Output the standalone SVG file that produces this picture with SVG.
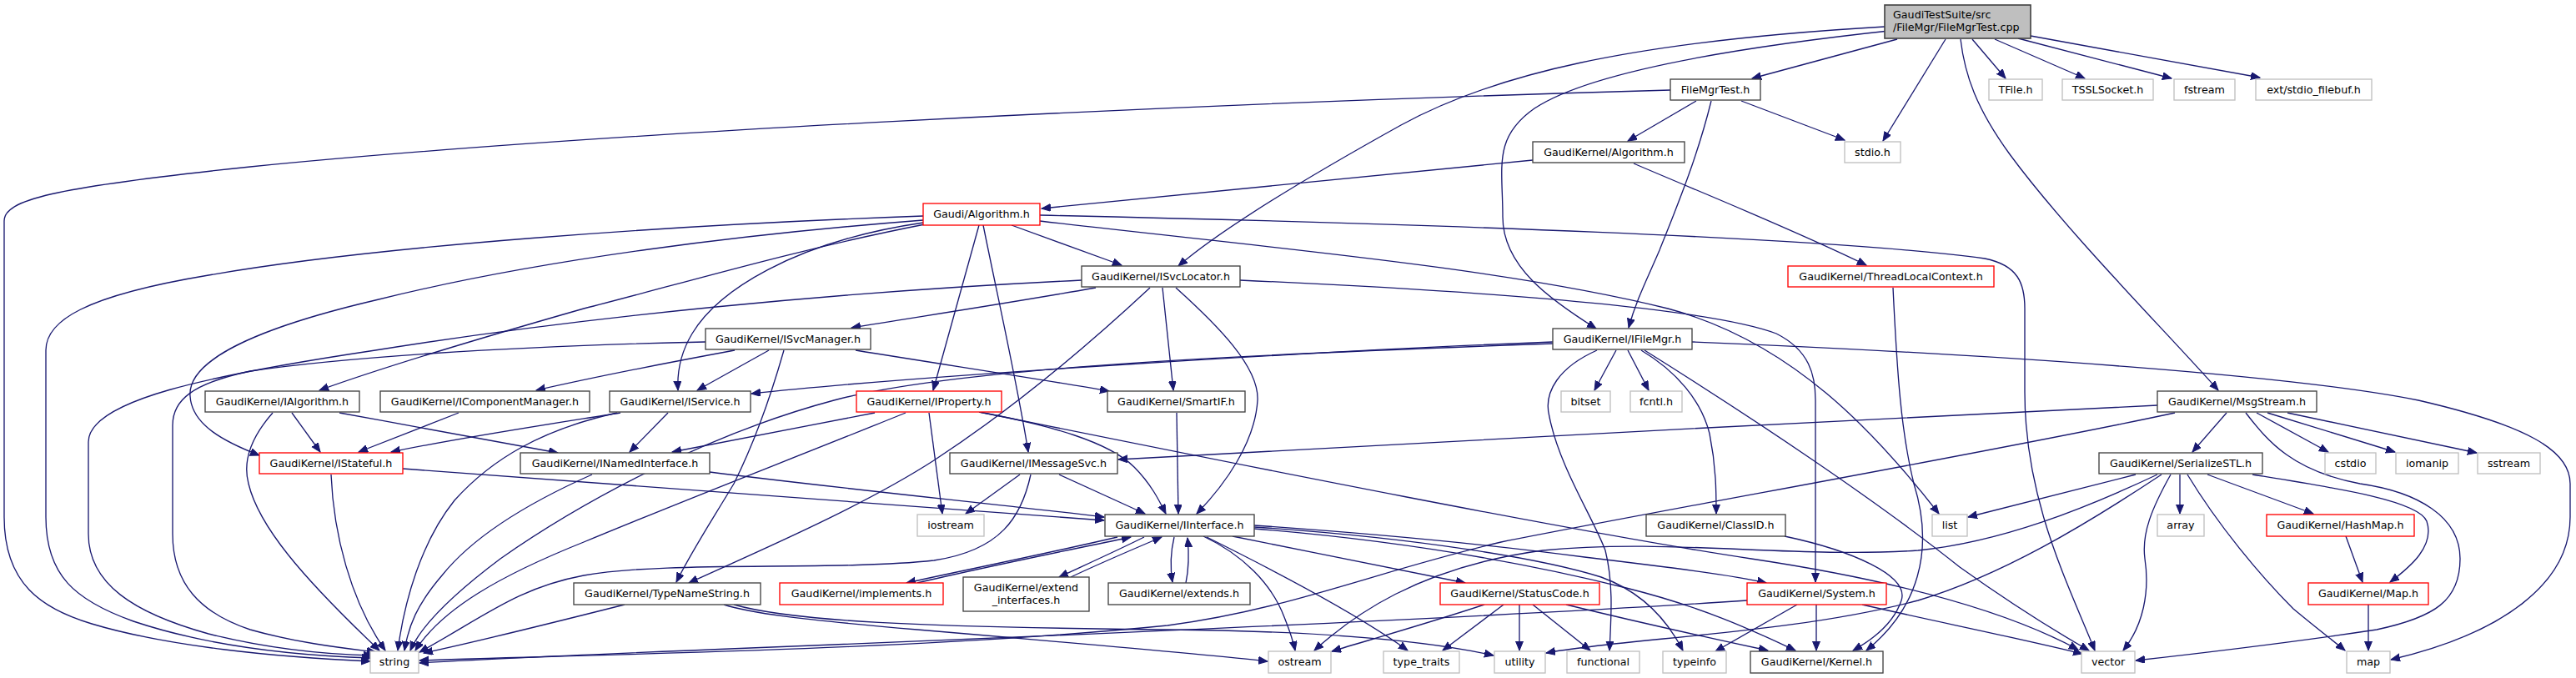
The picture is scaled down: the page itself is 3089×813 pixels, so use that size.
<svg xmlns="http://www.w3.org/2000/svg" width="3089" height="813" viewBox="0 0 3089 813">
<style>
.n rect{fill:#ffffff;stroke:#404040;stroke-width:1.33}
.r rect{fill:#ffffff;stroke:#ff0000;stroke-width:1.33}
.g rect{fill:#ffffff;stroke:#bfbfbf;stroke-width:1.33}
.t rect{fill:#bfbfbf;stroke:#404040;stroke-width:1.6}
text{font-family:"DejaVu Sans","Liberation Sans",sans-serif;font-size:12.7px;fill:#000000;text-anchor:middle}
text.l{text-anchor:start}
#edges path{fill:none;stroke:#191970;stroke-width:1.33;marker-end:url(#a)}
</style>
<defs>
<marker id="a" markerUnits="userSpaceOnUse" markerWidth="13" markerHeight="11" refX="11" refY="4.5" orient="auto">
<path d="M0,0 L11,4.5 L0,9 z" fill="#191970" stroke="#191970" stroke-width="1"/>
</marker>
</defs>
<rect x="0" y="0" width="3089" height="813" fill="#ffffff"/>
<g id="edges">
<path d="M2275,47 L2101,94"/>
<path d="M2333,47 L2258,169"/>
<path d="M2260,32 C1950,50 1790,90 1680,150 C1590,200 1470,270 1413,319"/>
<path d="M2274,36 C2050,60 1900,90 1840,130 C1790,165 1802,200 1802,260 C1802,320 1860,360 1914,394"/>
<path d="M2365,47 L2405,94"/>
<path d="M2392,47 L2500,94"/>
<path d="M2420,46 L2604,94"/>
<path d="M2435,43 L2710,93"/>
<path d="M2351,47 C2356,90 2370,130 2410,185 C2480,280 2600,400 2660,468"/>
<path d="M2003,108 C1400,125 700,160 300,200 C60,225 5,240 5,265 L5,620 C5,700 50,730 110,748 C200,775 330,788 444,793"/>
<path d="M2034,121 L1952,169"/>
<path d="M2088,121 L2212,168"/>
<path d="M2052,121 C2035,190 2010,250 1990,300 C1975,335 1962,360 1953,393"/>
<path d="M1838,192 L1249,250"/>
<path d="M1959,196 C2050,235 2150,275 2238,318"/>
<path d="M1107,259 C800,270 450,295 250,330 C100,355 55,385 55,420 L55,620 C55,690 90,720 160,745 C250,775 350,786 445,789"/>
<path d="M1107,264 C900,280 650,310 450,360 C280,400 225,440 228,475 C230,510 270,530 311,546"/>
<path d="M1109,269 C950,300 800,345 700,370 C560,410 460,440 383,468"/>
<path d="M1107,267 C950,290 860,350 830,400 C815,425 812,450 813,468"/>
<path d="M1174,270 L1119,468"/>
<path d="M1179,270 C1195,350 1220,460 1233,542"/>
<path d="M1213,270 L1345,318"/>
<path d="M1247,265 C1500,295 1800,320 2000,370 C2150,410 2250,520 2325,616"/>
<path d="M1247,258 C1700,268 2200,285 2380,310 C2420,318 2428,340 2428,370 L2428,470 C2428,600 2480,700 2512,780"/>
<path d="M1297,336 C1000,350 700,380 450,420 C250,450 106,480 106,530 L106,640 C106,700 160,735 250,760 C330,780 400,785 447,786"/>
<path d="M1314,345 C1200,365 1100,380 1021,393"/>
<path d="M1379,345 C1320,400 1230,480 1120,552 C1030,610 900,665 826,699"/>
<path d="M1394,345 L1407,468"/>
<path d="M1410,345 C1460,390 1510,440 1508,480 C1505,530 1470,580 1435,616"/>
<path d="M1487,336 C1800,350 2050,370 2130,400 C2170,420 2177,450 2177,480 L2177,698"/>
<path d="M846,410 C600,415 400,430 300,445 C230,460 207,480 207,510 L207,640 C207,700 240,735 300,755 C360,772 420,778 451,782"/>
<path d="M881,420 C800,435 700,455 643,468"/>
<path d="M922,420 L836,468"/>
<path d="M940,420 C920,490 900,540 880,580 C850,630 830,660 811,698"/>
<path d="M1026,420 C1150,440 1250,455 1330,469"/>
<path d="M744,495 C650,510 550,525 469,542"/>
<path d="M801,495 L755,542"/>
<path d="M740,495 C650,515 590,550 545,600 C505,650 485,720 477,780"/>
<path d="M350,495 L384,542"/>
<path d="M327,495 C305,520 290,550 298,580 C310,630 360,690 455,780"/>
<path d="M407,495 C500,512 600,530 669,543"/>
<path d="M550,495 L430,542"/>
<path d="M397,569 C400,640 420,720 462,780"/>
<path d="M483,562 C800,585 1100,605 1324,624"/>
<path d="M710,569 C640,600 570,640 530,690 C500,725 490,750 485,780"/>
<path d="M851,566 C1000,585 1200,605 1324,620"/>
<path d="M1049,495 L806,542"/>
<path d="M1086,495 C950,550 820,600 700,650 C600,690 530,730 498,780"/>
<path d="M1114,495 L1130,616"/>
<path d="M1174,494 C1260,510 1330,530 1360,560 C1380,580 1390,600 1398,616"/>
<path d="M1174,494 C1500,560 1900,640 2100,670 C2300,700 2420,740 2492,779"/>
<path d="M1223,569 L1158,616"/>
<path d="M1270,569 L1373,616"/>
<path d="M1236,569 C1225,620 1200,660 1120,672 C1000,685 800,672 700,690 C620,705 580,740 503,782"/>
<path d="M1411,495 L1413,616"/>
<path d="M749,725 C650,750 570,770 508,783"/>
<path d="M868,725 C900,735 950,742 1100,755 C1300,772 1450,785 1520,793"/>
<path d="M880,725 C950,745 1100,752 1400,755 C1600,757 1720,770 1791,786"/>
<path d="M1340,644 C1250,665 1150,685 1087,699"/>
<path d="M1100,699 C1180,680 1280,660 1356,644"/>
<path d="M1372,644 C1340,660 1300,678 1270,692"/>
<path d="M1284,692 C1320,675 1360,658 1393,644"/>
<path d="M1408,644 C1403,665 1403,680 1406,698"/>
<path d="M1422,699 C1426,680 1426,665 1424,645"/>
<path d="M1443,643 C1490,665 1525,700 1540,740 C1548,760 1551,770 1553,780"/>
<path d="M1447,644 C1560,700 1640,745 1688,780"/>
<path d="M1478,643 C1570,662 1680,683 1757,699"/>
<path d="M1504,630 C1650,640 1800,655 1900,668 C2000,680 2080,690 2118,699"/>
<path d="M1504,632 C1700,645 1850,670 1920,692 C1970,710 2000,745 2018,780"/>
<path d="M1504,634 C1700,650 1850,680 1950,705 C2050,730 2110,760 2153,780"/>
<path d="M1780,725 C1720,745 1650,765 1597,781"/>
<path d="M1803,725 L1730,780"/>
<path d="M1822,725 L1822,780"/>
<path d="M1838,725 L1907,780"/>
<path d="M1878,725 C1960,745 2050,765 2120,780"/>
<path d="M2095,720 C1800,740 1200,765 900,777 C700,785 580,790 503,795"/>
<path d="M2155,725 L2057,781"/>
<path d="M2178,725 L2178,780"/>
<path d="M2233,725 C2320,745 2420,765 2497,784"/>
<path d="M2140,643 C2220,660 2290,690 2280,720 C2270,750 2240,770 2222,780"/>
<path d="M2270,345 C2275,450 2280,520 2295,580 C2320,660 2300,730 2238,780"/>
<path d="M1862,410 C1600,420 1100,450 901,472"/>
<path d="M1862,412 C1500,425 1150,440 1000,480 C850,520 700,600 600,670 C540,715 505,750 492,780"/>
<path d="M1938,420 L1912,468"/>
<path d="M1952,420 L1977,468"/>
<path d="M1915,420 C1870,440 1850,470 1858,500 C1870,560 1910,620 1925,660 C1935,700 1932,740 1930,780"/>
<path d="M1968,420 C2010,445 2040,480 2050,520 C2058,560 2058,590 2058,616"/>
<path d="M1972,420 C2100,500 2250,600 2350,680 C2420,730 2470,760 2505,780"/>
<path d="M2029,410 C2400,425 2750,450 2900,480 C3030,510 3082,540 3082,580 L3082,620 C3082,700 3000,760 2867,791"/>
<path d="M2587,486 C2200,505 1700,530 1341,551"/>
<path d="M2608,495 C2400,540 2000,610 1800,650 C1650,685 1550,730 1400,750 C1100,780 700,785 503,792"/>
<path d="M2670,495 L2629,542"/>
<path d="M2706,495 L2792,542"/>
<path d="M2719,495 L2872,542"/>
<path d="M2743,495 L2970,543"/>
<path d="M2693,495 C2720,530 2750,565 2830,580 C2900,590 2950,620 2950,670 C2950,720 2920,740 2850,755 C2750,770 2650,782 2561,792"/>
<path d="M2561,569 L2360,620"/>
<path d="M2587,569 C2500,610 2400,650 2300,660 C2150,670 2000,645 1850,660 C1700,680 1620,740 1576,780"/>
<path d="M2592,569 C2500,630 2400,690 2300,720 C2150,760 1950,765 1854,783"/>
<path d="M2603,569 C2580,610 2568,640 2572,670 C2578,710 2570,750 2546,780"/>
<path d="M2614,569 L2614,616"/>
<path d="M2623,569 C2660,630 2710,690 2750,730 C2780,755 2800,770 2812,780"/>
<path d="M2647,569 L2774,616"/>
<path d="M2701,569 C2800,585 2900,600 2910,625 C2920,655 2890,680 2866,698"/>
<path d="M2813,643 L2833,698"/>
<path d="M2840,725 L2840,780"/>
</g>
<g id="n0" class="t"><rect x="2260" y="6" width="175" height="40"/><text class="l" x="2270" y="21.5">GaudiTestSuite/src</text><text class="l" x="2270" y="37">/FileMgr/FileMgrTest.cpp</text></g>
<g id="n1" class="n"><rect x="2003" y="95" width="108" height="25"/><text x="2057" y="112">FileMgrTest.h</text></g>
<g id="n2" class="g"><rect x="2385" y="95" width="64" height="25"/><text x="2417" y="112">TFile.h</text></g>
<g id="n3" class="g"><rect x="2473" y="95" width="109" height="25"/><text x="2527.5" y="112">TSSLSocket.h</text></g>
<g id="n4" class="g"><rect x="2607" y="95" width="73" height="25"/><text x="2643.5" y="112">fstream</text></g>
<g id="n5" class="g"><rect x="2705" y="95" width="139" height="25"/><text x="2774.5" y="112">ext/stdio_filebuf.h</text></g>
<g id="n6" class="n"><rect x="1838" y="170" width="182" height="25"/><text x="1929" y="187">GaudiKernel/Algorithm.h</text></g>
<g id="n7" class="g"><rect x="2212" y="170" width="67" height="25"/><text x="2245.5" y="187">stdio.h</text></g>
<g id="n8" class="r"><rect x="1107" y="244" width="140" height="26"/><text x="1177" y="261">Gaudi/Algorithm.h</text></g>
<g id="n9" class="n"><rect x="1297" y="319" width="190" height="25"/><text x="1392" y="336">GaudiKernel/ISvcLocator.h</text></g>
<g id="n10" class="r"><rect x="2144" y="319" width="247" height="25"/><text x="2267.5" y="336">GaudiKernel/ThreadLocalContext.h</text></g>
<g id="n11" class="n"><rect x="846" y="394" width="198" height="25"/><text x="945" y="411">GaudiKernel/ISvcManager.h</text></g>
<g id="n12" class="n"><rect x="1862" y="394" width="167" height="25"/><text x="1945.5" y="411">GaudiKernel/IFileMgr.h</text></g>
<g id="n13" class="n"><rect x="246" y="469" width="185" height="25"/><text x="338.5" y="486">GaudiKernel/IAlgorithm.h</text></g>
<g id="n14" class="n"><rect x="456" y="469" width="251" height="25"/><text x="581.5" y="486">GaudiKernel/IComponentManager.h</text></g>
<g id="n15" class="n"><rect x="731" y="469" width="169" height="25"/><text x="815.5" y="486">GaudiKernel/IService.h</text></g>
<g id="n16" class="r"><rect x="1027" y="469" width="174" height="25"/><text x="1114" y="486">GaudiKernel/IProperty.h</text></g>
<g id="n17" class="n"><rect x="1328" y="469" width="165" height="25"/><text x="1410.5" y="486">GaudiKernel/SmartIF.h</text></g>
<g id="n18" class="g"><rect x="1872" y="469" width="59" height="25"/><text x="1901.5" y="486">bitset</text></g>
<g id="n19" class="g"><rect x="1955" y="469" width="62" height="25"/><text x="1986" y="486">fcntl.h</text></g>
<g id="n20" class="n"><rect x="2587" y="469" width="191" height="25"/><text x="2682.5" y="486">GaudiKernel/MsgStream.h</text></g>
<g id="n21" class="r"><rect x="311" y="543" width="172" height="25"/><text x="397" y="560">GaudiKernel/IStateful.h</text></g>
<g id="n22" class="n"><rect x="624" y="543" width="227" height="25"/><text x="737.5" y="560">GaudiKernel/INamedInterface.h</text></g>
<g id="n23" class="n"><rect x="1139" y="543" width="201" height="25"/><text x="1239.5" y="560">GaudiKernel/IMessageSvc.h</text></g>
<g id="n24" class="n"><rect x="2517" y="543" width="196" height="25"/><text x="2615" y="560">GaudiKernel/SerializeSTL.h</text></g>
<g id="n25" class="g"><rect x="2788" y="543" width="61" height="25"/><text x="2818.5" y="560">cstdio</text></g>
<g id="n26" class="g"><rect x="2873" y="543" width="75" height="25"/><text x="2910.5" y="560">iomanip</text></g>
<g id="n27" class="g"><rect x="2971" y="543" width="75" height="25"/><text x="3008.5" y="560">sstream</text></g>
<g id="n28" class="g"><rect x="1100" y="617" width="80" height="26"/><text x="1140" y="634">iostream</text></g>
<g id="n29" class="n"><rect x="1325" y="617" width="179" height="26"/><text x="1414.5" y="634">GaudiKernel/IInterface.h</text></g>
<g id="n30" class="n"><rect x="1974" y="617" width="167" height="26"/><text x="2057.5" y="634">GaudiKernel/ClassID.h</text></g>
<g id="n31" class="g"><rect x="2317" y="617" width="42" height="26"/><text x="2338" y="634">list</text></g>
<g id="n32" class="g"><rect x="2587" y="617" width="56" height="26"/><text x="2615" y="634">array</text></g>
<g id="n33" class="r"><rect x="2718" y="617" width="177" height="26"/><text x="2806.5" y="634">GaudiKernel/HashMap.h</text></g>
<g id="n34" class="n"><rect x="688" y="699" width="224" height="26"/><text x="800" y="716">GaudiKernel/TypeNameString.h</text></g>
<g id="n35" class="r"><rect x="935" y="699" width="196" height="26"/><text x="1033" y="716">GaudiKernel/implements.h</text></g>
<g id="n36" class="n"><rect x="1155" y="692" width="151" height="41"/><text x="1230.5" y="709">GaudiKernel/extend</text><text x="1230.5" y="724">_interfaces.h</text></g>
<g id="n37" class="n"><rect x="1329" y="699" width="170" height="26"/><text x="1414" y="716">GaudiKernel/extends.h</text></g>
<g id="n38" class="r"><rect x="1727" y="699" width="191" height="26"/><text x="1822.5" y="716">GaudiKernel/StatusCode.h</text></g>
<g id="n39" class="r"><rect x="2095" y="699" width="167" height="26"/><text x="2178.5" y="716">GaudiKernel/System.h</text></g>
<g id="n40" class="r"><rect x="2768" y="699" width="144" height="26"/><text x="2840" y="716">GaudiKernel/Map.h</text></g>
<g id="n41" class="g"><rect x="444" y="781" width="58" height="26"/><text x="473" y="798">string</text></g>
<g id="n42" class="g"><rect x="1521" y="781" width="75" height="26"/><text x="1558.5" y="798">ostream</text></g>
<g id="n43" class="g"><rect x="1659" y="781" width="91" height="26"/><text x="1704.5" y="798">type_traits</text></g>
<g id="n44" class="g"><rect x="1792" y="781" width="61" height="26"/><text x="1822.5" y="798">utility</text></g>
<g id="n45" class="g"><rect x="1879" y="781" width="87" height="26"/><text x="1922.5" y="798">functional</text></g>
<g id="n46" class="g"><rect x="1994" y="781" width="76" height="26"/><text x="2032" y="798">typeinfo</text></g>
<g id="n47" class="n"><rect x="2099" y="781" width="159" height="26"/><text x="2178.5" y="798">GaudiKernel/Kernel.h</text></g>
<g id="n48" class="g"><rect x="2496" y="781" width="64" height="26"/><text x="2528" y="798">vector</text></g>
<g id="n49" class="g"><rect x="2814" y="781" width="52" height="26"/><text x="2840" y="798">map</text></g>
</svg>
